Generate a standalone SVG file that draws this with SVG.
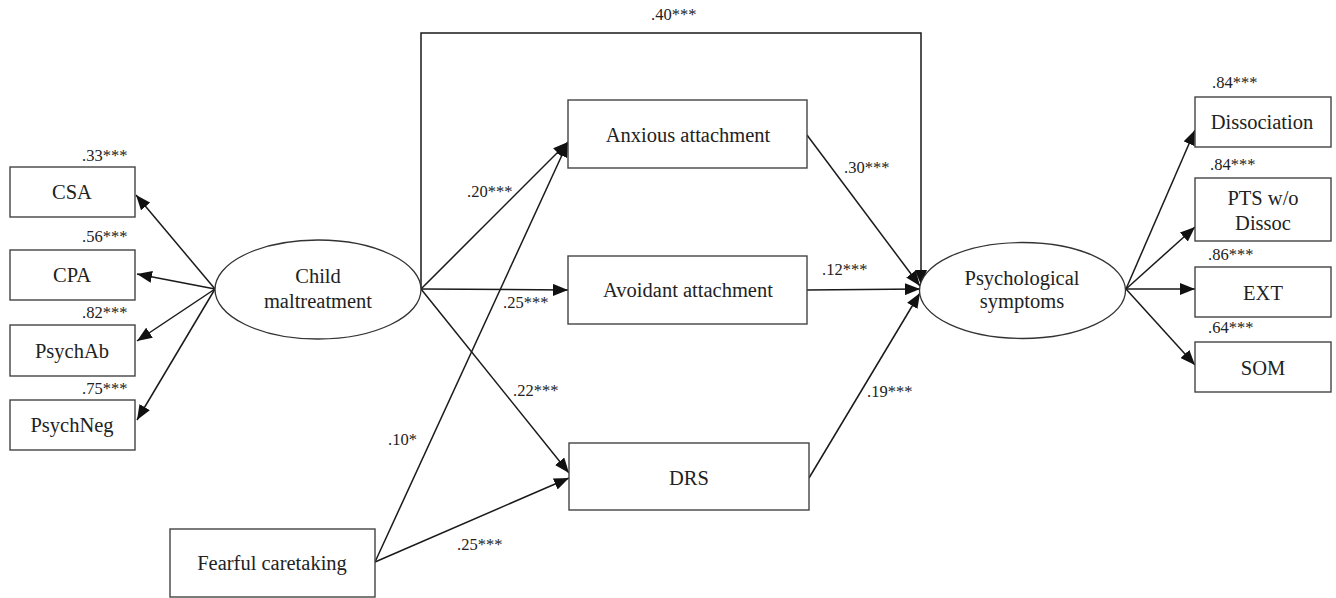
<svg xmlns="http://www.w3.org/2000/svg" width="1336" height="598" viewBox="0 0 1336 598">
<style>
.box{fill:#fff;stroke:#444;stroke-width:1.4}
.ell{fill:#fff;stroke:#333;stroke-width:1.3}
.t{font-family:"Liberation Serif","Times New Roman",serif;font-size:20.5px;fill:#222;text-anchor:middle}
.c{font-family:"Liberation Serif","Times New Roman",serif;font-size:16.5px;fill:#222}
.ln{fill:none;stroke:#1a1a1a;stroke-width:1.5}
</style>
<defs>
<marker id="ah" markerUnits="userSpaceOnUse" markerWidth="16" markerHeight="12" refX="15" refY="6" orient="auto">
<path d="M0,0 L15,6 L0,12 Z" fill="#111"/>
</marker>
</defs>
<rect width="1336" height="598" fill="#fff"/>

<g id="connectors">
<line class="ln" x1="215" y1="289" x2="136" y2="195" marker-end="url(#ah)"/>
<line class="ln" x1="215" y1="289" x2="137" y2="274" marker-end="url(#ah)"/>
<line class="ln" x1="215" y1="289" x2="137" y2="341" marker-end="url(#ah)"/>
<line class="ln" x1="215" y1="289" x2="137" y2="420" marker-end="url(#ah)"/>
<polyline class="ln" points="421,289 421,33 921,33 921,285" marker-end="url(#ah)"/>
<line class="ln" x1="421" y1="289" x2="568" y2="142" marker-end="url(#ah)"/>
<line class="ln" x1="421" y1="289" x2="568" y2="290" marker-end="url(#ah)"/>
<line class="ln" x1="421" y1="289" x2="569" y2="473" marker-end="url(#ah)"/>
<line class="ln" x1="375" y1="562" x2="568" y2="142" marker-end="url(#ah)"/>
<line class="ln" x1="375" y1="562" x2="569" y2="478" marker-end="url(#ah)"/>
<line class="ln" x1="807" y1="135" x2="920" y2="286" marker-end="url(#ah)"/>
<line class="ln" x1="807" y1="290" x2="920" y2="289" marker-end="url(#ah)"/>
<line class="ln" x1="809" y1="478" x2="920" y2="293" marker-end="url(#ah)"/>
<line class="ln" x1="1126" y1="289" x2="1195" y2="130" marker-end="url(#ah)"/>
<line class="ln" x1="1126" y1="289" x2="1195" y2="227" marker-end="url(#ah)"/>
<line class="ln" x1="1126" y1="289" x2="1195" y2="289" marker-end="url(#ah)"/>
<line class="ln" x1="1126" y1="289" x2="1195" y2="365" marker-end="url(#ah)"/>
</g>

<g id="labels">
<text class="c" x="82" y="161">.33***</text>
<text class="c" x="82" y="242">.56***</text>
<text class="c" x="82" y="318">.82***</text>
<text class="c" x="82" y="394">.75***</text>
<text class="c" x="651" y="20">.40***</text>
<text class="c" x="467" y="197">.20***</text>
<text class="c" x="844" y="173">.30***</text>
<text class="c" x="503" y="308">.25***</text>
<text class="c" x="822" y="275">.12***</text>
<text class="c" x="513" y="396">.22***</text>
<text class="c" x="867" y="397">.19***</text>
<text class="c" x="388" y="445">.10*</text>
<text class="c" x="457" y="550">.25***</text>
<text class="c" x="1212" y="88">.84***</text>
<text class="c" x="1210" y="170">.84***</text>
<text class="c" x="1208" y="260">.86***</text>
<text class="c" x="1208" y="333">.64***</text>
</g>

<g id="csa"><rect class="box" x="10" y="167" width="125" height="50"/><text class="t" x="72" y="199">CSA</text></g>
<g id="cpa"><rect class="box" x="10" y="250" width="125" height="50"/><text class="t" x="72" y="282">CPA</text></g>
<g id="psychab"><rect class="box" x="10" y="325" width="125" height="51"/><text class="t" x="72" y="358">PsychAb</text></g>
<g id="psychneg"><rect class="box" x="10" y="400" width="125" height="50"/><text class="t" x="72" y="432">PsychNeg</text></g>

<g id="child"><ellipse class="ell" cx="318" cy="289.5" rx="103" ry="49.5"/><text class="t" x="318" y="283">Child</text><text class="t" x="318" y="308">maltreatment</text></g>

<g id="anxious"><rect class="box" x="568" y="100" width="239" height="68"/><text class="t" x="688" y="142">Anxious attachment</text></g>
<g id="avoidant"><rect class="box" x="568" y="256" width="239" height="68"/><text class="t" x="688" y="297">Avoidant attachment</text></g>
<g id="drs"><rect class="box" x="569" y="443" width="240" height="67"/><text class="t" x="689" y="485">DRS</text></g>
<g id="fearful"><rect class="box" x="170" y="529" width="205" height="68"/><text class="t" x="272" y="570">Fearful caretaking</text></g>

<g id="psych"><ellipse class="ell" cx="1022.5" cy="290.5" rx="103" ry="48"/><text class="t" x="1022" y="285">Psychological</text><text class="t" x="1022" y="308">symptoms</text></g>

<g id="dissociation"><rect class="box" x="1195" y="97" width="136" height="50"/><text class="t" x="1262" y="129">Dissociation</text></g>
<g id="pts"><rect class="box" x="1195" y="178" width="136" height="63"/><text class="t" x="1263" y="205">PTS w/o</text><text class="t" x="1263" y="230">Dissoc</text></g>
<g id="ext"><rect class="box" x="1195" y="267" width="136" height="50"/><text class="t" x="1263" y="300">EXT</text></g>
<g id="som"><rect class="box" x="1195" y="342" width="136" height="50"/><text class="t" x="1263" y="375">SOM</text></g>
</svg>
